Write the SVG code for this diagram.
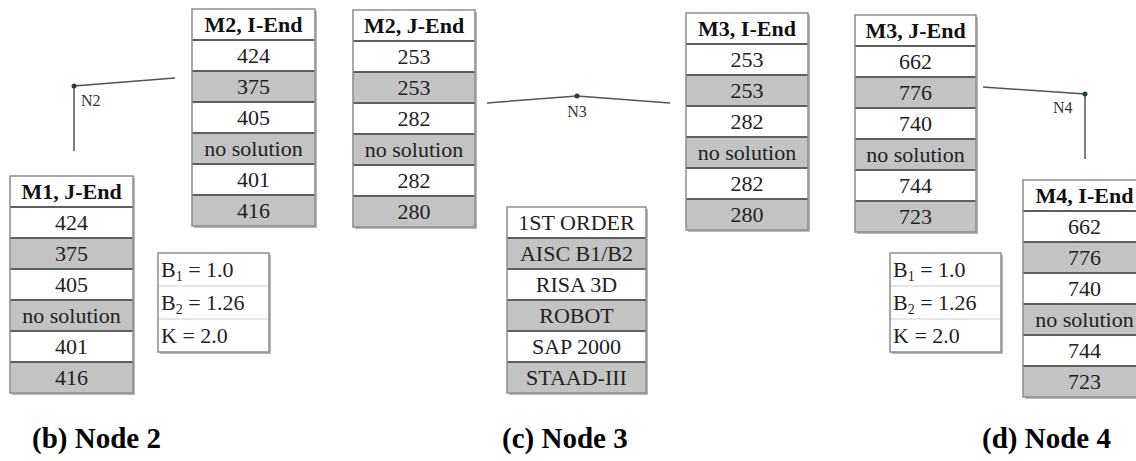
<svg xmlns="http://www.w3.org/2000/svg" width="1136" height="461" viewBox="0 0 1136 461">
<style>
.bg{fill:#ffffff}
.sh{fill:#b8b8b8}
.w{fill:#ffffff}
.g{fill:#c3c3c3}
.frame{fill:none;stroke:#8c8c8c;stroke-width:1.5}
.sep{stroke:#5e5e5e;stroke-width:2}
.sepl{stroke:#cfcfcf;stroke-width:1}
text{font-family:"Liberation Serif","Tinos","Times New Roman","DejaVu Serif",serif}
.t{font-size:22px;fill:#222;text-anchor:middle}
.h{font-size:22px;font-weight:bold;fill:#111;text-anchor:middle}
.tl{font-size:22px;fill:#222}
.nl{font-size:16px;fill:#333}
.cap{font-size:29px;font-weight:bold;fill:#000}
.ln{stroke:#555;stroke-width:1.5;fill:none}
.dot{fill:#1d4a1d}
</style>
<rect class="bg" x="0" y="0" width="1136" height="461"/>

<g id="connectors">
  <polyline class="ln" points="74,151 74,86 175,78"/>
  <polyline class="ln" points="487,103 577,96 670,103"/>
  <polyline class="ln" points="983,87 1085,94 1085,159"/>
</g>

<g id="node-N2">
  <circle class="dot" cx="74" cy="86" r="2.5"/>
  <text class="nl" x="81" y="106">N2</text>
</g>
<g id="node-N3">
  <circle class="dot" cx="577" cy="96" r="2.5"/>
  <text class="nl" x="577" y="117" text-anchor="middle">N3</text>
</g>
<g id="node-N4">
  <circle class="dot" cx="1085" cy="94" r="2.5"/>
  <text class="nl" x="1053" y="113">N4</text>
</g>

<g id="table-M1-J">
  <rect class="sh" x="12" y="178" width="123" height="217"/>
  <rect class="w" x="10" y="176" width="123" height="31"/>
  <rect class="w" x="10" y="207" width="123" height="31"/>
  <rect class="g" x="10" y="238" width="123" height="31"/>
  <rect class="w" x="10" y="269" width="123" height="31"/>
  <rect class="g" x="10" y="300" width="123" height="31"/>
  <rect class="w" x="10" y="331" width="123" height="31"/>
  <rect class="g" x="10" y="362" width="123" height="31"/>
  <path class="sep" d="M10 207H133M10 238H133M10 269H133M10 300H133M10 331H133M10 362H133"/>
  <rect class="frame" x="10" y="176" width="123" height="217"/>
  <text class="h" x="71.5" y="199">M1, J-End</text>
  <text class="t" x="71.5" y="230">424</text>
  <text class="t" x="71.5" y="261">375</text>
  <text class="t" x="71.5" y="292">405</text>
  <text class="t" x="71.5" y="323">no solution</text>
  <text class="t" x="71.5" y="354">401</text>
  <text class="t" x="71.5" y="385">416</text>
</g>

<g id="table-M2-I">
  <rect class="sh" x="194" y="11" width="123" height="217"/>
  <rect class="w" x="192" y="9" width="123" height="31"/>
  <rect class="w" x="192" y="40" width="123" height="31"/>
  <rect class="g" x="192" y="71" width="123" height="31"/>
  <rect class="w" x="192" y="102" width="123" height="31"/>
  <rect class="g" x="192" y="133" width="123" height="31"/>
  <rect class="w" x="192" y="164" width="123" height="31"/>
  <rect class="g" x="192" y="195" width="123" height="31"/>
  <path class="sep" d="M192 40H315M192 71H315M192 102H315M192 133H315M192 164H315M192 195H315"/>
  <rect class="frame" x="192" y="9" width="123" height="217"/>
  <text class="h" x="253.5" y="32">M2, I-End</text>
  <text class="t" x="253.5" y="63">424</text>
  <text class="t" x="253.5" y="94">375</text>
  <text class="t" x="253.5" y="125">405</text>
  <text class="t" x="253.5" y="156">no solution</text>
  <text class="t" x="253.5" y="187">401</text>
  <text class="t" x="253.5" y="218">416</text>
</g>

<g id="table-M2-J">
  <rect class="sh" x="355" y="12" width="122" height="217"/>
  <rect class="w" x="353" y="10" width="122" height="31"/>
  <rect class="w" x="353" y="41" width="122" height="31"/>
  <rect class="g" x="353" y="72" width="122" height="31"/>
  <rect class="w" x="353" y="103" width="122" height="31"/>
  <rect class="g" x="353" y="134" width="122" height="31"/>
  <rect class="w" x="353" y="165" width="122" height="31"/>
  <rect class="g" x="353" y="196" width="122" height="31"/>
  <path class="sep" d="M353 41H475M353 72H475M353 103H475M353 134H475M353 165H475M353 196H475"/>
  <rect class="frame" x="353" y="10" width="122" height="217"/>
  <text class="h" x="414" y="33">M2, J-End</text>
  <text class="t" x="414" y="64">253</text>
  <text class="t" x="414" y="95">253</text>
  <text class="t" x="414" y="126">282</text>
  <text class="t" x="414" y="157">no solution</text>
  <text class="t" x="414" y="188">282</text>
  <text class="t" x="414" y="219">280</text>
</g>

<g id="table-methods">
  <rect class="sh" x="509" y="209" width="139" height="186"/>
  <rect class="w" x="507" y="207" width="139" height="31"/>
  <rect class="g" x="507" y="238" width="139" height="31"/>
  <rect class="w" x="507" y="269" width="139" height="31"/>
  <rect class="g" x="507" y="300" width="139" height="31"/>
  <rect class="w" x="507" y="331" width="139" height="31"/>
  <rect class="g" x="507" y="362" width="139" height="31"/>
  <path class="sep" d="M507 238H646M507 269H646M507 300H646M507 331H646M507 362H646"/>
  <rect class="frame" x="507" y="207" width="139" height="186"/>
  <text class="t" x="576.5" y="230">1ST ORDER</text>
  <text class="t" x="576.5" y="261">AISC B1/B2</text>
  <text class="t" x="576.5" y="292">RISA 3D</text>
  <text class="t" x="576.5" y="323">ROBOT</text>
  <text class="t" x="576.5" y="354">SAP 2000</text>
  <text class="t" x="576.5" y="385">STAAD-III</text>
</g>

<g id="table-M3-I">
  <rect class="sh" x="688" y="15" width="122" height="217"/>
  <rect class="w" x="686" y="13" width="122" height="31"/>
  <rect class="w" x="686" y="44" width="122" height="31"/>
  <rect class="g" x="686" y="75" width="122" height="31"/>
  <rect class="w" x="686" y="106" width="122" height="31"/>
  <rect class="g" x="686" y="137" width="122" height="31"/>
  <rect class="w" x="686" y="168" width="122" height="31"/>
  <rect class="g" x="686" y="199" width="122" height="31"/>
  <path class="sep" d="M686 44H808M686 75H808M686 106H808M686 137H808M686 168H808M686 199H808"/>
  <rect class="frame" x="686" y="13" width="122" height="217"/>
  <text class="h" x="747" y="36">M3, I-End</text>
  <text class="t" x="747" y="67">253</text>
  <text class="t" x="747" y="98">253</text>
  <text class="t" x="747" y="129">282</text>
  <text class="t" x="747" y="160">no solution</text>
  <text class="t" x="747" y="191">282</text>
  <text class="t" x="747" y="222">280</text>
</g>

<g id="table-M3-J">
  <rect class="sh" x="857" y="17" width="121" height="217"/>
  <rect class="w" x="855" y="15" width="121" height="31"/>
  <rect class="w" x="855" y="46" width="121" height="31"/>
  <rect class="g" x="855" y="77" width="121" height="31"/>
  <rect class="w" x="855" y="108" width="121" height="31"/>
  <rect class="g" x="855" y="139" width="121" height="31"/>
  <rect class="w" x="855" y="170" width="121" height="31"/>
  <rect class="g" x="855" y="201" width="121" height="31"/>
  <path class="sep" d="M855 46H976M855 77H976M855 108H976M855 139H976M855 170H976M855 201H976"/>
  <rect class="frame" x="855" y="15" width="121" height="217"/>
  <text class="h" x="915.5" y="38">M3, J-End</text>
  <text class="t" x="915.5" y="69">662</text>
  <text class="t" x="915.5" y="100">776</text>
  <text class="t" x="915.5" y="131">740</text>
  <text class="t" x="915.5" y="162">no solution</text>
  <text class="t" x="915.5" y="193">744</text>
  <text class="t" x="915.5" y="224">723</text>
</g>

<g id="table-M4-I">
  <rect class="sh" x="1025" y="182" width="123" height="217"/>
  <rect class="w" x="1023" y="180" width="123" height="31"/>
  <rect class="w" x="1023" y="211" width="123" height="31"/>
  <rect class="g" x="1023" y="242" width="123" height="31"/>
  <rect class="w" x="1023" y="273" width="123" height="31"/>
  <rect class="g" x="1023" y="304" width="123" height="31"/>
  <rect class="w" x="1023" y="335" width="123" height="31"/>
  <rect class="g" x="1023" y="366" width="123" height="31"/>
  <path class="sep" d="M1023 211H1146M1023 242H1146M1023 273H1146M1023 304H1146M1023 335H1146M1023 366H1146"/>
  <rect class="frame" x="1023" y="180" width="123" height="217"/>
  <text class="h" x="1084.5" y="203">M4, I-End</text>
  <text class="t" x="1084.5" y="234">662</text>
  <text class="t" x="1084.5" y="265">776</text>
  <text class="t" x="1084.5" y="296">740</text>
  <text class="t" x="1084.5" y="327">no solution</text>
  <text class="t" x="1084.5" y="358">744</text>
  <text class="t" x="1084.5" y="389">723</text>
</g>

<g id="table-B-left">
  <rect class="sh" x="160" y="255" width="111" height="99"/>
  <rect class="w" x="158" y="253" width="111" height="99"/>
  <path class="sepl" d="M158 286H269M158 319H269"/>
  <rect class="frame" x="158" y="253" width="111" height="99"/>
  <text class="tl" x="161" y="277">B<tspan font-size="14" dy="4">1</tspan><tspan dy="-4"> = 1.0</tspan></text>
  <text class="tl" x="161" y="310">B<tspan font-size="14" dy="4">2</tspan><tspan dy="-4"> = 1.26</tspan></text>
  <text class="tl" x="161" y="343">K = 2.0</text>
</g>

<g id="table-B-right">
  <rect class="sh" x="892" y="255" width="111" height="99"/>
  <rect class="w" x="890" y="253" width="111" height="99"/>
  <path class="sepl" d="M890 286H1001M890 319H1001"/>
  <rect class="frame" x="890" y="253" width="111" height="99"/>
  <text class="tl" x="893" y="277">B<tspan font-size="14" dy="4">1</tspan><tspan dy="-4"> = 1.0</tspan></text>
  <text class="tl" x="893" y="310">B<tspan font-size="14" dy="4">2</tspan><tspan dy="-4"> = 1.26</tspan></text>
  <text class="tl" x="893" y="343">K = 2.0</text>
</g>

<g id="captions">
  <text class="cap" x="32" y="448">(b) Node 2</text>
  <text class="cap" x="502" y="448">(c) Node 3</text>
  <text class="cap" x="982" y="448">(d) Node 4</text>
</g>
</svg>
